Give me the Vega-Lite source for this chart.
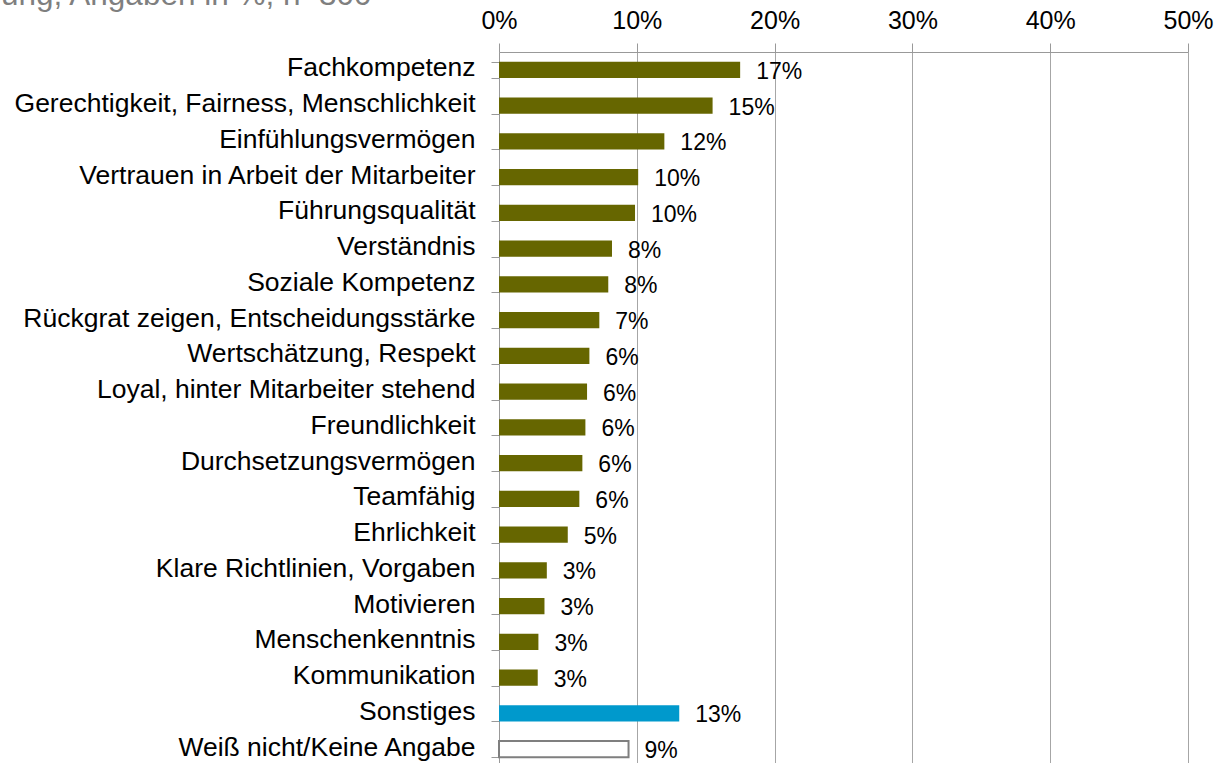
{
  "$schema": "https://vega.github.io/schema/vega-lite/v6.json",
  "autosize": "none",
  "width": 689,
  "height": 715,
  "padding": {"left": 499, "top": 52, "right": 29, "bottom": 0},
  "background": "white",
  "config": {
    "font": "Liberation Sans",
    "view": {"stroke": null}
  },
  "title": {
    "text": "ung, Angaben in %, n=300",
    "anchor": "start",
    "frame": "group",
    "orient": "top",
    "baseline": "alphabetic",
    "fontSize": 31.5,
    "fontWeight": "normal",
    "color": "#7F7F7F",
    "font": "Liberation Sans",
    "offset": 0,
    "dx": -498,
    "dy": 28
  },
  "data": {
    "values": [
      {"item": "Fachkompetenz", "value": 17.5, "label": "17%", "group": "a"},
      {"item": "Gerechtigkeit, Fairness, Menschlichkeit", "value": 15.5, "label": "15%", "group": "a"},
      {"item": "Einfühlungsvermögen", "value": 12.0, "label": "12%", "group": "a"},
      {"item": "Vertrauen in Arbeit der Mitarbeiter", "value": 10.1, "label": "10%", "group": "a"},
      {"item": "Führungsqualität", "value": 9.87, "label": "10%", "group": "a"},
      {"item": "Verständnis", "value": 8.2, "label": "8%", "group": "a"},
      {"item": "Soziale Kompetenz", "value": 7.93, "label": "8%", "group": "a"},
      {"item": "Rückgrat zeigen, Entscheidungsstärke", "value": 7.28, "label": "7%", "group": "a"},
      {"item": "Wertschätzung, Respekt", "value": 6.56, "label": "6%", "group": "a"},
      {"item": "Loyal, hinter Mitarbeiter stehend", "value": 6.39, "label": "6%", "group": "a"},
      {"item": "Freundlichkeit", "value": 6.27, "label": "6%", "group": "a"},
      {"item": "Durchsetzungsvermögen", "value": 6.05, "label": "6%", "group": "a"},
      {"item": "Teamfähig", "value": 5.83, "label": "6%", "group": "a"},
      {"item": "Ehrlichkeit", "value": 4.99, "label": "5%", "group": "a"},
      {"item": "Klare Richtlinien, Vorgaben", "value": 3.47, "label": "3%", "group": "a"},
      {"item": "Motivieren", "value": 3.3, "label": "3%", "group": "a"},
      {"item": "Menschenkenntnis", "value": 2.86, "label": "3%", "group": "a"},
      {"item": "Kommunikation", "value": 2.81, "label": "3%", "group": "a"},
      {"item": "Sonstiges", "value": 13.08, "label": "13%", "group": "s"},
      {"item": "Weiß nicht/Keine Angabe", "value": 9.4, "label": "9%", "group": "w"}
    ]
  },
  "encoding": {
    "y": {
      "field": "item",
      "type": "nominal",
      "sort": null,
      "scale": {"paddingInner": 0.55, "paddingOuter": 0.275},
      "axis": {
        "title": null,
        "tickBand": "extent",
        "tickSize": 8,
        "tickColor": "#999999",
        "domainColor": "#999999",
        "labelFontSize": 26.5,
        "labelColor": "#000000",
        "labelFont": "Liberation Sans",
        "labelPadding": 16,
        "labelBaseline": "alphabetic",
        "labelOffset": 6,
        "labelLimit": 600,
        "grid": false
      }
    },
    "x": {
      "field": "value",
      "type": "quantitative",
      "scale": {"domain": [0, 50], "nice": false},
      "axis": {
        "orient": "top",
        "title": null,
        "values": [0, 10, 20, 30, 40, 50],
        "labelExpr": "datum.value + '%'",
        "tickSize": 9,
        "tickColor": "#999999",
        "domainColor": "#999999",
        "grid": true,
        "gridColor": "#A6A6A6",
        "gridOpacity": 1,
        "labelFontSize": 25,
        "labelColor": "#000000",
        "labelFont": "Liberation Sans",
        "labelPadding": 15,
        "labelBaseline": "alphabetic",
        "labelFlush": false
      }
    }
  },
  "layer": [
    {
      "transform": [{"filter": "datum.group !== 'w'"}],
      "mark": {"type": "bar"},
      "encoding": {
        "color": {
          "field": "group",
          "type": "nominal",
          "scale": {"domain": ["a", "s"], "range": ["#666600", "#0099CC"]},
          "legend": null
        }
      }
    },
    {
      "transform": [{"filter": "datum.group === 'w'"}],
      "mark": {"type": "bar", "fill": "#FFFFFF", "stroke": "#7F7F7F", "strokeWidth": 2}
    },
    {
      "mark": {
        "type": "text",
        "align": "left",
        "baseline": "alphabetic",
        "dx": 16,
        "dy": 9,
        "fontSize": 23,
        "font": "Liberation Sans",
        "color": "#000000"
      },
      "encoding": {
        "text": {"field": "label"}
      }
    }
  ]
}
